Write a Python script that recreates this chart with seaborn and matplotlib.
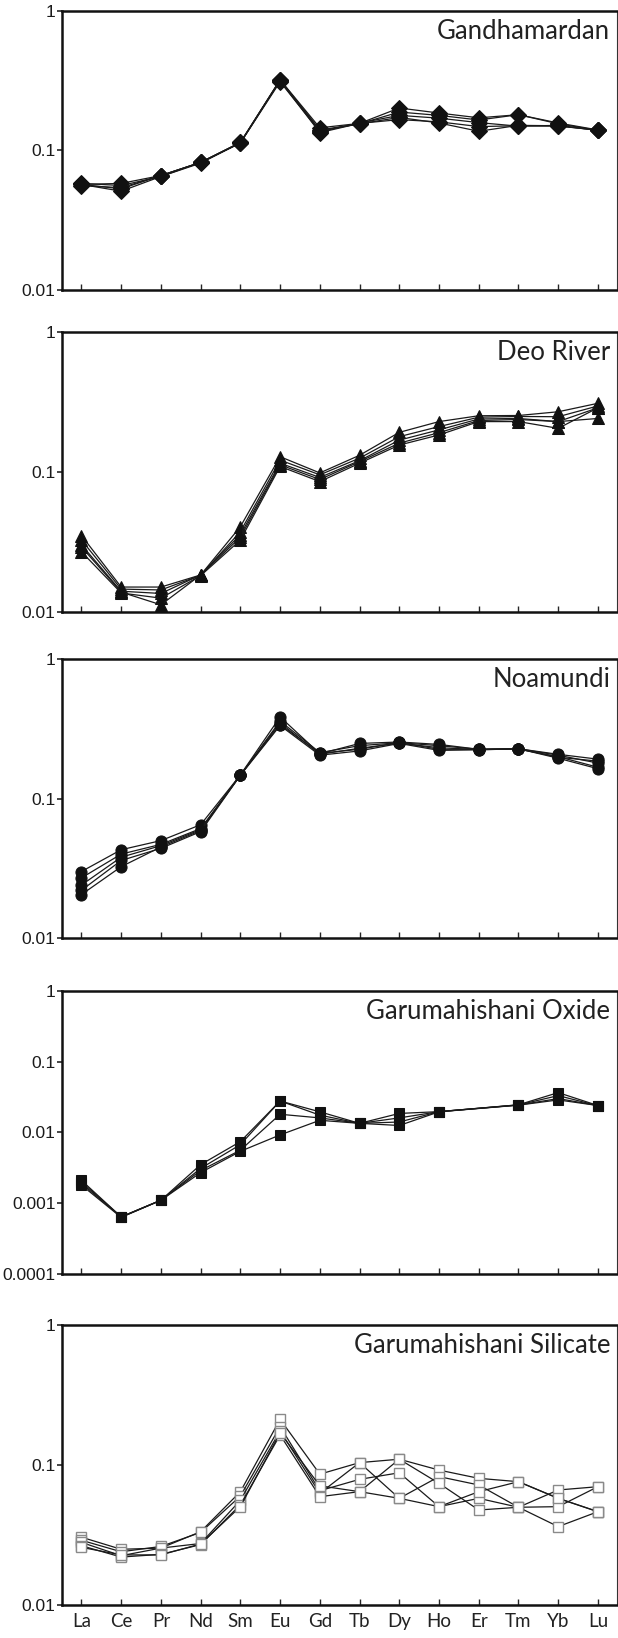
import numpy as np
import pandas as pd
import matplotlib.pyplot as plt
import seaborn as sns
from matplotlib.ticker import NullLocator

sns.set_style('ticks')
plt.rcParams['font.family'] = ['Liberation Sans', 'DejaVu Sans']

elements = ['La', 'Ce', 'Pr', 'Nd', 'Sm', 'Eu', 'Gd', 'Tb', 'Dy', 'Ho', 'Er', 'Tm', 'Yb', 'Lu']

# chondrite-normalised REE, one row per sample
gandhamardan = [
    [0.057, 0.058, 0.066, 0.082, 0.113, 0.320, 0.145, 0.156, 0.201, 0.185, 0.171, 0.180, 0.157, 0.140],
    [0.058, 0.056, 0.065, 0.082, 0.114, 0.320, 0.140, 0.155, 0.188, 0.178, 0.165, 0.180, 0.155, 0.139],
    [0.057, 0.053, 0.066, 0.082, 0.113, 0.310, 0.136, 0.157, 0.178, 0.170, 0.158, 0.149, 0.151, 0.139],
    [0.057, 0.051, 0.065, 0.081, 0.113, 0.315, 0.134, 0.156, 0.166, 0.160, 0.148, 0.150, 0.149, 0.140],
    [0.056, 0.054, 0.066, 0.082, 0.114, 0.318, 0.138, 0.155, 0.172, 0.157, 0.137, 0.151, 0.150, 0.139],
]
deo_river = [
    [0.0350, 0.0150, 0.0150, 0.0183, 0.0405, 0.128, 0.098, 0.131, 0.191, 0.228, 0.251, 0.252, 0.268, 0.308],
    [0.0325, 0.0145, 0.0143, 0.0182, 0.0373, 0.121, 0.095, 0.125, 0.178, 0.210, 0.245, 0.248, 0.247, 0.295],
    [0.0300, 0.0140, 0.0135, 0.0183, 0.0355, 0.115, 0.091, 0.120, 0.168, 0.199, 0.238, 0.240, 0.228, 0.286],
    [0.0268, 0.0136, 0.0125, 0.0181, 0.0325, 0.109, 0.085, 0.115, 0.155, 0.183, 0.228, 0.228, 0.204, 0.286],
    [0.0290, 0.0138, 0.0112, 0.0183, 0.0340, 0.112, 0.088, 0.118, 0.160, 0.190, 0.232, 0.236, 0.228, 0.240],
]
noamundi = [
    [0.0300, 0.0430, 0.0500, 0.065, 0.148, 0.386, 0.210, 0.249, 0.255, 0.245, 0.226, 0.228, 0.208, 0.192],
    [0.0270, 0.0400, 0.0470, 0.061, 0.147, 0.360, 0.214, 0.240, 0.252, 0.240, 0.226, 0.228, 0.205, 0.180],
    [0.0240, 0.0380, 0.0460, 0.060, 0.148, 0.350, 0.208, 0.230, 0.250, 0.232, 0.225, 0.227, 0.200, 0.168],
    [0.0220, 0.0360, 0.0440, 0.058, 0.147, 0.335, 0.205, 0.220, 0.249, 0.222, 0.224, 0.228, 0.195, 0.164],
    [0.0205, 0.0325, 0.0450, 0.059, 0.148, 0.340, 0.212, 0.226, 0.253, 0.226, 0.226, 0.228, 0.198, 0.186],
]
# Er not reported for the oxide samples
garu_oxide = [
    [0.0021, 0.00064, 0.0011, 0.0035, 0.0074, 0.0277, 0.0195, 0.0134, 0.0185, 0.0196, None, 0.0245, 0.0364, 0.0239],
    [0.0019, 0.00064, 0.0011, 0.0031, 0.0067, 0.0277, 0.0175, 0.0134, 0.0160, 0.0196, None, 0.0244, 0.0330, 0.0238],
    [0.0018, 0.00063, 0.0011, 0.0029, 0.0056, 0.0180, 0.0160, 0.0134, 0.0140, 0.0196, None, 0.0243, 0.0300, 0.0239],
    [0.0020, 0.00064, 0.0011, 0.0027, 0.0054, 0.0092, 0.0148, 0.0134, 0.0125, 0.0195, None, 0.0242, 0.0287, 0.0239],
]
garu_silicate = [
    [0.0305, 0.0250, 0.0255, 0.0334, 0.0645, 0.212, 0.0860, 0.104, 0.110, 0.0920, 0.0803, 0.0760, 0.0578, 0.0464],
    [0.0290, 0.0240, 0.0262, 0.0330, 0.0600, 0.188, 0.0655, 0.079, 0.088, 0.0504, 0.0578, 0.0499, 0.0663, 0.0700],
    [0.0280, 0.0225, 0.0255, 0.0275, 0.0560, 0.175, 0.0628, 0.104, 0.0578, 0.0826, 0.0720, 0.0499, 0.0363, 0.0464],
    [0.0265, 0.0220, 0.0230, 0.0270, 0.0520, 0.164, 0.0594, 0.0645, 0.110, 0.0740, 0.0477, 0.0499, 0.0504, 0.0700],
    [0.0258, 0.0228, 0.0228, 0.0273, 0.0504, 0.170, 0.0710, 0.0645, 0.0578, 0.0504, 0.0645, 0.0760, 0.0578, 0.0464],
]


def to_long(rows):
    recs = []
    for i, row in enumerate(rows):
        for j, v in enumerate(row):
            if v is not None:
                recs.append((i, j, v))
    return pd.DataFrame(recs, columns=['sample', 'pos', 'value'])


panels = [
    ('Gandhamardan', gandhamardan, dict(marker='D', markersize=8.5, markerfacecolor='#111', markeredgecolor='#111'), 2),
    ('Deo River', deo_river, dict(marker='^', markersize=9, markerfacecolor='#111', markeredgecolor='#111'), 2),
    ('Noamundi', noamundi, dict(marker='o', markersize=8, markerfacecolor='#111', markeredgecolor='#111'), 2),
    ('Garumahishani Oxide', garu_oxide, dict(marker='s', markersize=7, markerfacecolor='#111', markeredgecolor='#111'), 4),
    ('Garumahishani Silicate', garu_silicate, dict(marker='s', markersize=7.5, markerfacecolor='white',
                                                  markeredgecolor='#8a8a8a', markeredgewidth=1.0), 2),
]

# axes boxes in pixels from the top (top, bottom)
boxes = [(10.7, 290), (331.7, 611.7), (659.3, 938), (990.7, 1274), (1325, 1605)]
W, H = 618, 1638

fig = plt.figure(figsize=(W / 100, H / 100), dpi=100)
fig.patch.set_facecolor('white')

for k, ((title, rows, mk, ndec), (top, bot)) in enumerate(zip(panels, boxes)):
    ax = fig.add_axes([62 / W, 1 - bot / H, 555 / W, (bot - top) / H])
    df = to_long(rows)
    sns.lineplot(data=df, x='pos', y='value', units='sample', estimator=None,
                 color='#1a1a1a', lw=0.9, ax=ax, legend=False, **mk)
    ax.set_yscale('log')
    ax.set_ylim(10.0 ** -ndec, 1)
    yt = [10.0 ** -i for i in range(ndec + 1)]
    ax.set_yticks(yt, ['1' if i == 0 else '0.' + '0' * (i - 1) + '1' for i in range(ndec + 1)])
    ax.yaxis.set_minor_locator(NullLocator())
    ax.set_xlim(-0.49, 13.48)
    ax.set_xticks(range(len(elements)))
    if k == len(panels) - 1:
        ax.set_xticklabels(elements, fontfamily=['Lato', 'DejaVu Sans'], fontsize=13.5, color='#222')
    else:
        ax.set_xticklabels([])
    ax.set_xlabel('')
    ax.set_ylabel('')
    ax.tick_params(axis='x', direction='in', length=4, width=1, pad=6)
    ax.tick_params(axis='y', direction='out', length=3.5, width=1.2, pad=1, labelsize=12.5, labelcolor='#1a1a1a')
    for s in ['left', 'bottom', 'top']:
        ax.spines[s].set_linewidth(1.8)
        ax.spines[s].set_color('#111')
    ax.spines['right'].set_linewidth(0.8)
    ax.spines['right'].set_color('#333')
    ax.text(0.988, 0.972, title, transform=ax.transAxes, ha='right', va='top',
            fontsize=18.5, color='#222', family=['Lato', 'DejaVu Sans'])

fig.savefig('out.png', dpi=100, facecolor='white')
